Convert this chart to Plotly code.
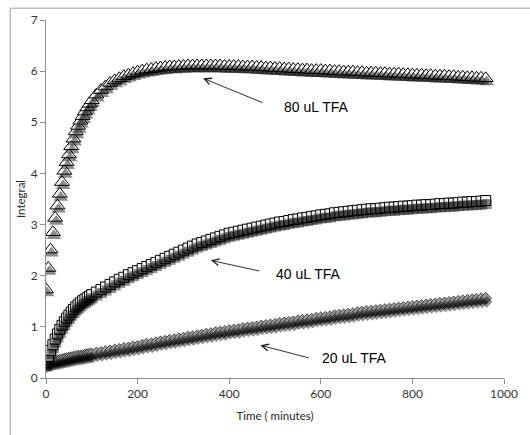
import plotly.graph_objects as go

# Sampling times (minutes)
time_min = [0, 5, 10, 15, 20, 25, 30, 35, 40, 45, 50, 55, 60, 65, 70, 75, 80, 85, 90, 95, 100,
            110, 120, 130, 140, 150, 160, 170, 180, 190, 200,
            210, 220, 230, 240, 250, 260, 270, 280, 290, 300,
            310, 320, 330, 340, 350, 360, 370, 380, 390, 400,
            410, 420, 430, 440, 450, 460, 470, 480, 490, 500,
            510, 520, 530, 540, 550, 560, 570, 580, 590, 600,
            610, 620, 630, 640, 650, 660, 670, 680, 690, 700,
            710, 720, 730, 740, 750, 760, 770, 780, 790, 800,
            810, 820, 830, 840, 850, 860, 870, 880, 890, 900,
            910, 920, 930, 940, 950, 960]

# 80 uL TFA (triangles)
integral_80 = [1.73, 2.15, 2.51, 2.85, 3.13, 3.37, 3.60, 3.83, 4.05, 4.22, 4.37, 4.53, 4.68, 4.82, 4.93, 5.03, 5.12, 5.21, 5.29, 5.36, 5.43,
               5.54, 5.63, 5.70, 5.77, 5.82, 5.86, 5.90, 5.93, 5.96, 5.99,
               6.01, 6.03, 6.04, 6.06, 6.07, 6.08, 6.09, 6.09, 6.10, 6.10,
               6.11, 6.11, 6.11, 6.11, 6.11, 6.11, 6.11, 6.11, 6.10, 6.10,
               6.10, 6.10, 6.09, 6.09, 6.09, 6.08, 6.08, 6.07, 6.07, 6.06,
               6.06, 6.05, 6.05, 6.04, 6.04, 6.03, 6.03, 6.02, 6.02, 6.02,
               6.01, 6.01, 6.00, 6.00, 5.99, 5.99, 5.99, 5.98, 5.98, 5.97,
               5.97, 5.97, 5.96, 5.96, 5.95, 5.95, 5.95, 5.94, 5.94, 5.93,
               5.93, 5.93, 5.92, 5.92, 5.91, 5.91, 5.91, 5.90, 5.90, 5.89,
               5.89, 5.88, 5.88, 5.87, 5.87, 5.86]

# 40 uL TFA (squares)
integral_40 = [0.30, 0.42, 0.54, 0.65, 0.76, 0.86, 0.95, 1.03, 1.10, 1.17, 1.23, 1.29, 1.34, 1.39, 1.43, 1.47, 1.51, 1.54, 1.57, 1.60, 1.63,
               1.68, 1.73, 1.78, 1.83, 1.88, 1.93, 1.97, 2.02, 2.06, 2.10,
               2.14, 2.18, 2.22, 2.26, 2.30, 2.34, 2.38, 2.42, 2.46, 2.50,
               2.54, 2.58, 2.62, 2.65, 2.68, 2.71, 2.74, 2.77, 2.80, 2.83,
               2.85, 2.87, 2.89, 2.91, 2.93, 2.95, 2.97, 2.99, 3.01, 3.03,
               3.05, 3.06, 3.08, 3.10, 3.11, 3.13, 3.14, 3.16, 3.17, 3.19,
               3.20, 3.21, 3.23, 3.24, 3.25, 3.26, 3.27, 3.28, 3.29, 3.30,
               3.31, 3.31, 3.32, 3.33, 3.34, 3.34, 3.35, 3.36, 3.36, 3.37,
               3.38, 3.38, 3.39, 3.39, 3.40, 3.41, 3.41, 3.42, 3.42, 3.43,
               3.44, 3.44, 3.45, 3.45, 3.46, 3.47]

# 20 uL TFA (diamonds)
integral_20 = [0.28, 0.30, 0.31, 0.32, 0.33, 0.34, 0.35, 0.36, 0.37, 0.38, 0.39, 0.40, 0.41, 0.42, 0.43, 0.43, 0.44, 0.45, 0.46, 0.47, 0.47,
               0.49, 0.50, 0.52, 0.53, 0.55, 0.56, 0.58, 0.59, 0.61, 0.62,
               0.64, 0.66, 0.67, 0.69, 0.71, 0.72, 0.74, 0.75, 0.77, 0.78,
               0.80, 0.81, 0.83, 0.84, 0.86, 0.87, 0.89, 0.90, 0.91, 0.93,
               0.94, 0.95, 0.97, 0.98, 0.99, 1.00, 1.02, 1.03, 1.04, 1.05,
               1.07, 1.08, 1.09, 1.10, 1.12, 1.13, 1.14, 1.15, 1.17, 1.18,
               1.19, 1.20, 1.22, 1.23, 1.24, 1.25, 1.26, 1.28, 1.29, 1.30,
               1.31, 1.32, 1.33, 1.34, 1.35, 1.36, 1.37, 1.38, 1.39, 1.40,
               1.41, 1.42, 1.43, 1.44, 1.45, 1.46, 1.47, 1.48, 1.49, 1.50,
               1.51, 1.52, 1.53, 1.54, 1.55, 1.56]

for arr in (integral_80, integral_40, integral_20):
    assert len(arr) == len(time_min), (len(arr), len(time_min))

x_ticks = [0, 200, 400, 600, 800, 1000]
y_ticks = [0, 1, 2, 3, 4, 5, 6, 7]

series = [
    ("20 uL TFA", integral_20, "diamond", 9, "#9a9a9a", "#2a2a2a", 0.8),
    ("40 uL TFA", integral_40, "square", 10, "#f2f2f2", "#000000", 1),
    ("80 uL TFA", integral_80, "triangle-up", 13, "#ffffff", "#000000", 1),
]

fig = go.Figure()

# drop shadows (drawn on slightly offset overlay axes)
for name, vals, sym, size, fill, edge, lw in series:
    fig.add_trace(go.Scatter(
        x=time_min, y=vals, mode="markers", xaxis="x2", yaxis="y2",
        marker=dict(symbol=sym, size=size, color="rgba(0,0,0,0.45)", line=dict(width=0)),
        showlegend=False, hoverinfo="skip"))

for name, vals, sym, size, fill, edge, lw in series:
    fig.add_trace(go.Scatter(
        x=time_min, y=vals, mode="markers", name=name,
        marker=dict(symbol=sym, size=size, color=fill, line=dict(color=edge, width=lw)),
        showlegend=False))

axis_font = dict(family="Lato, 'Open Sans', sans-serif", size=12, color="#333333")
title_font = dict(family="Lato, sans-serif", size=11.5, color="#262626")

fig.update_layout(
    width=530, height=435,
    margin=dict(l=46, r=21, t=16, b=57),
    paper_bgcolor="white", plot_bgcolor="white",
    showlegend=False,
    xaxis=dict(range=[0, 1000], tickvals=x_ticks, ticks="outside", ticklen=5,
               tickcolor="#8c8c8c", showline=True, linecolor="#8c8c8c", linewidth=1,
               showgrid=False, zeroline=False, tickfont=axis_font,
               title=dict(text="Time ( minutes)", font=title_font, standoff=11)),
    yaxis=dict(range=[0, 7], tickvals=y_ticks, ticks="outside", ticklen=5,
               tickcolor="#8c8c8c", showline=True, linecolor="#8c8c8c", linewidth=1,
               showgrid=False, zeroline=False, tickfont=axis_font,
               title=dict(text="Integral", font=title_font, standoff=2)),
    xaxis2=dict(range=[-2.2, 997.8], overlaying="x", visible=False),
    yaxis2=dict(range=[0.07, 7.07], overlaying="y", visible=False),
)

# outer chart-area frame (left and top edges visible)
frame = dict(color="#bdbdbd", width=1.5)
fig.add_shape(type="line", xref="paper", yref="paper", x0=-0.078, x1=-0.078, y0=-0.2, y1=1.033,
              line=frame, layer="below")
fig.add_shape(type="line", xref="paper", yref="paper", x0=-0.078, x1=1.1, y0=1.033, y1=1.033,
              line=frame, layer="below")

label_font = dict(family="Liberation Sans, Arial, sans-serif", size=14, color="#000000")
labels = [
    ("80 uL TFA", 516, 5.30, 343, 5.86, 61, 25),
    ("40 uL TFA", 498, 2.03, 360, 2.30, 50, 11),
    ("20 uL TFA", 598, 0.39, 468, 0.64, 50, 13),
]
for text, tx, ty, hx, hy, ax, ay in labels:
    fig.add_annotation(x=tx, y=ty, xref="x", yref="y", text=text, showarrow=False,
                       xanchor="left", yanchor="middle", font=label_font)
    fig.add_annotation(x=hx, y=hy, xref="x", yref="y", text="", showarrow=True,
                       ax=ax, ay=ay, axref="pixel", ayref="pixel",
                       arrowhead=5, arrowsize=1.5, arrowwidth=0.9, arrowcolor="#1a1a1a")

fig.write_html("out.html")
